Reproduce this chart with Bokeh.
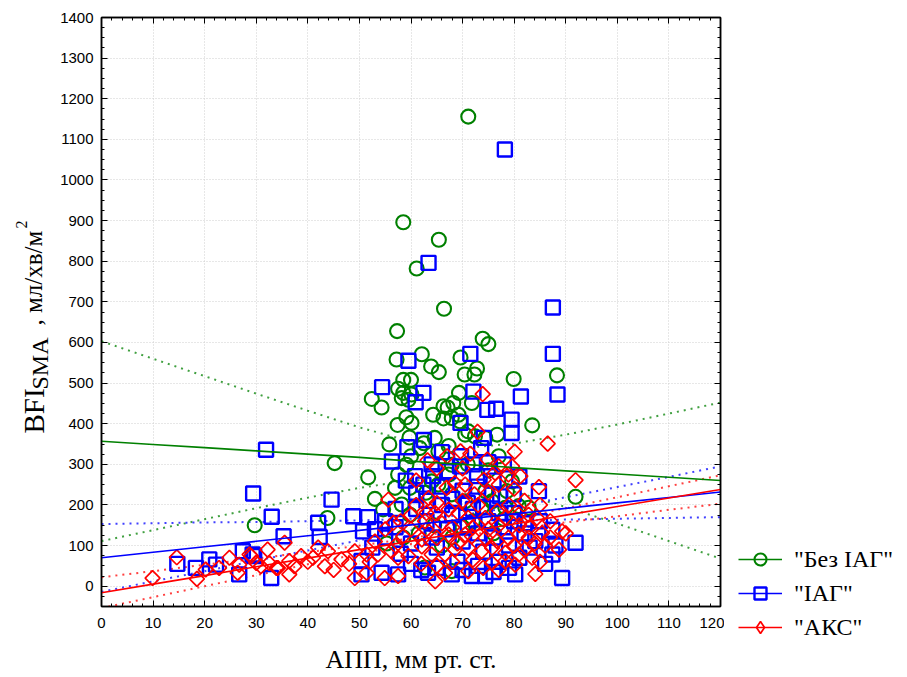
import math
from bokeh.plotting import figure
from bokeh.layouts import row, column
from bokeh.models import (Range1d, FixedTicker, LinearAxis, Legend, LegendItem,
                          Label, CustomJSTickFormatter)
from bokeh.embed import file_html
from bokeh.resources import INLINE

# ---------------- data ----------------
group_names = ['"Без ІАГ"', '"ІАГ"', '"АКС"']

green_x = [71.1, 58.5, 65.4, 61.1, 66.4, 57.3, 73.9, 75.0, 62.1, 57.2, 69.6, 72.8, 63.9, 65.4,
           70.4, 72.3, 58.5, 60.0, 79.9, 88.3, 57.5, 58.5, 69.3, 52.4, 54.3, 58.2, 59.5, 60.1,
           66.3, 67.1, 68.2, 71.8, 66.3, 57.4, 59.1, 60.1, 69.2, 69.5, 83.5, 64.3, 67.9, 70.5,
           71.1, 72.4, 74.4, 76.7, 64.6, 59.7, 55.8, 62.5, 67.3, 61.7, 65.3, 59.1, 57.5, 67.3,
           67.9, 64.0, 56.9, 59.8, 62.9, 65.3, 67.9, 70.5, 73.7, 75.7, 78.3, 79.6, 74.4, 78.6,
           80.9, 82.8, 58.2, 59.8, 54.6, 45.2, 51.7, 43.8, 29.7, 91.9, 62.7, 67.9, 55.3, 61.5,
           64.5, 70.0, 72.0, 68.0, 76.0, 58.5, 66.0, 78.0, 53.0, 75.0, 71.0, 60.0, 77.0]
green_y = [1156, 896, 853, 782, 683, 628, 609, 596, 571, 558, 563, 536, 541, 527,
           521, 521, 508, 508, 510, 519, 486, 476, 476, 461, 440, 463, 459, 472,
           443, 440, 451, 451, 413, 397, 416, 402, 422, 406, 396, 422, 414, 373,
           381, 369, 365, 373, 365, 366, 349, 352, 345, 340, 332, 299, 275, 275,
           299, 258, 242, 242, 230, 250, 226, 209, 193, 209, 193, 258, 234, 234,
           197, 193, 201, 176, 189, 303, 268, 168, 150, 220, 46, 37, 105, 130,
           150, 145, 160, 120, 130, 120, 100, 165, 215, 285, 300, 320, 320]

blue_x = [78.2, 63.4, 59.5, 71.5, 87.5, 87.5, 88.4, 81.3, 54.4, 62.4, 60.9, 72.1, 74.8, 76.5,
          69.6, 79.5, 79.5, 62.5, 59.3, 56.3, 73.6, 74.1, 69.5, 31.9, 29.4, 33.0, 44.6, 42.0,
          42.3, 35.3, 48.8, 51.7, 50.7, 29.3, 32.9, 27.4, 26.7, 14.7, 18.3, 20.9, 22.2, 29.6,
          50.4, 54.3, 57.5, 50.4, 60.8, 62.4, 64.3, 67.3, 69.7, 72.8, 75.7, 79.9, 77.3, 84.8,
          87.4, 91.9, 89.3, 84.1, 87.4, 80.2, 74.4, 67.9, 71.8, 63.3, 52.5, 55.0, 57.0, 58.0,
          60.0, 61.0, 63.0, 64.0, 65.0, 66.0, 67.0, 68.0, 69.0, 70.0, 71.0, 72.0, 73.0, 74.0,
          75.0, 76.0, 77.0, 78.0, 79.0, 80.0, 81.0, 82.0, 83.0, 85.0, 86.0, 88.0, 60.0, 62.0,
          65.0, 70.0, 73.0, 76.0, 79.0, 66.0, 70.0, 73.0, 76.0, 68.0, 71.0, 74.0, 77.0, 80.0,
          82.0, 63.0, 61.0, 57.0, 55.0, 53.0, 81.0, 78.0, 75.0, 72.0, 64.0, 59.0, 66.0]
blue_y = [1075, 796, 555, 572, 686, 572, 472, 467, 490, 476, 453, 479, 434, 437,
          402, 410, 377, 360, 342, 307, 340, 365, 295, 336, 228, 171, 213, 156,
          121, 123, 172, 170, 135, 78, 20, 86, 29, 55, 45, 66, 53, 74,
          62, 33, 29, 29, 271, 250, 271, 283, 320, 271, 226, 226, 221, 234,
          139, 107, 20, 111, 78, 29, 25, 29, 25, 33, 95, 120, 145, 80,
          105, 190, 160, 120, 95, 200, 140, 175, 60, 110, 150, 190, 130, 85,
          160, 120, 60, 145, 100, 180, 70, 130, 95, 160, 55, 100, 55, 40,
          45, 40, 50, 35, 45, 245, 235, 245, 260, 215, 205, 195, 180, 160,
          155, 210, 230, 190, 160, 140, 270, 300, 305, 300, 300, 260, 330]

red_x = [9.9, 14.6, 18.5, 20.2, 22.8, 24.8, 26.7, 28.7, 30.9, 32.2, 33.9, 35.5, 36.4, 26.4,
         29.0, 30.0, 32.5, 34.2, 36.4, 37.4, 38.7, 41.0, 43.3, 43.9, 46.5, 49.1, 49.1, 51.4,
         51.4, 53.6, 54.9, 56.2, 57.5, 57.5, 59.5, 62.1, 64.0, 64.7, 66.6, 66.6, 68.5, 71.1,
         71.1, 73.7, 75.7, 75.7, 78.3, 78.3, 80.9, 80.2, 83.5, 84.1, 88.7, 58.5, 62.1, 65.0,
         67.3, 70.5, 71.8, 74.4, 76.7, 78.9, 80.9, 82.8, 56.6, 62.7, 85.4, 89.3, 64.7, 67.3,
         69.2, 71.1, 74.4, 76.7, 78.3, 80.9, 82.8, 84.4, 72.3, 63.4, 55.6, 74.1, 70.5, 66.9,
         68.5, 84.8, 91.9, 76.3, 78.9, 81.2, 74.8, 77.0, 79.6, 63.2, 69.6, 71.5, 80.1, 86.5,
         72.9, 73.9, 60.0, 61.0, 63.0, 66.0, 68.0, 69.0, 72.0, 73.0, 75.0, 77.0, 79.0, 81.0,
         83.0, 85.0, 86.0, 87.0, 60.0, 65.0, 70.0, 75.0, 77.0, 80.0, 82.0, 84.0, 57.0, 55.0,
         53.0, 52.0, 48.0, 45.0, 42.0, 40.0, 62.0, 65.0, 68.0, 72.0, 74.0, 77.0, 80.0, 82.0,
         85.0, 87.0, 90.0, 61.0, 65.0, 67.0, 70.0, 58.0, 63.0]
red_y = [20, 71, 18, 41, 45, 70, 53, 78, 49, 90, 45, 107, 62, 33,
         74, 57, 57, 45, 29, 49, 74, 70, 49, 86, 66, 86, 20, 78,
         33, 78, 20, 86, 70, 25, 74, 98, 78, 12, 78, 33, 90, 94,
         37, 86, 94, 57, 82, 62, 78, 53, 70, 30, 90, 123, 115, 119,
         127, 127, 123, 119, 111, 119, 127, 119, 156, 160, 131, 135, 180, 189,
         180, 168, 168, 185, 168, 176, 176, 168, 226, 217, 213, 262, 250, 242,
         254, 244, 261, 279, 275, 271, 312, 295, 295, 310, 332, 326, 331, 351,
         380, 473, 140, 200, 140, 155, 145, 105, 145, 200, 140, 150, 200, 150,
         145, 200, 100, 160, 175, 205, 210, 230, 250, 240, 210, 105, 100, 140,
         110, 60, 55, 40, 95, 60, 55, 50, 60, 65, 45, 40, 100, 90,
         60, 120, 130, 260, 290, 320, 290, 160, 180]

# regression lines and 95% confidence bands, read at these APP values
band_x = [0, 10, 20, 30, 40, 50, 60, 70, 80, 90, 100, 110, 120]
green_fit = [357, 349, 341, 333, 325, 317, 308, 300, 292, 284, 276, 268, 260]
green_upper = [603, 560, 517, 474, 432, 391, 356, 340, 351, 373, 398, 425, 452]
green_lower = [111, 138, 165, 192, 218, 242, 261, 261, 233, 195, 154, 111, 68]
blue_fit = [70, 83.5, 97, 110.5, 124, 137.5, 151, 164.5, 178, 191.5, 205, 218.5, 232]
blue_upper = [153, 155, 157, 158, 160, 162, 166, 175, 195, 219, 244, 269, 295]
blue_lower = [-14, 12, 37, 63, 88, 113, 137, 155, 161, 164, 166, 168, 170]
red_fit = [-16, 5, 26, 48, 69, 90, 111, 132, 153, 175, 196, 217, 238]
red_upper = [22, 37, 53, 68, 84, 100, 118, 141, 166, 192, 219, 246, 273]
red_lower = [-54, -27, 0, 27, 54, 80, 104, 124, 141, 157, 172, 188, 203]

x_ticks = list(range(0, 121, 10))
y_ticks = list(range(0, 1401, 100))

x_title = "АПП, мм рт. ст."
y_title_parts = ["BFI", "SMA", ", мл/хв/м", "2"]

# ---------------- styling ----------------
GREEN, BLUE, RED = "#008000", "#0000ff", "#ff0000"
SERIF, SANS = "Liberation Serif", "Liberation Sans"
H = 677
W_TITLE = 55      # column holding the y title
W_MAIN = 669
W_LEG = 907 - W_TITLE - W_MAIN

# ---------------- main plot ----------------
p = figure(width=W_MAIN, height=H, output_backend="svg", toolbar_location=None,
           x_range=Range1d(0, 120), y_range=Range1d(-50, 1400),
           min_border_left=101 - W_TITLE, min_border_right=4, min_border_top=17,
           min_border_bottom=71, background_fill_color="white",
           border_fill_color="white")
p.outline_line_color = "black"
p.outline_line_width = 1.5

xt = FixedTicker(ticks=x_ticks, minor_ticks=list(range(0, 121, 2)))
yt = FixedTicker(ticks=y_ticks, minor_ticks=list(range(-50, 1401, 25)))

for ax, tk in ((p.xaxis[0], xt), (p.yaxis[0], yt)):
    ax.ticker = tk
    ax.major_tick_in = 6
    ax.major_tick_out = 0
    ax.minor_tick_in = 3
    ax.minor_tick_out = 0
    ax.axis_line_color = "black"
    ax.axis_line_width = 1.5
    ax.major_label_text_font = SANS
    ax.major_label_text_font_size = "15px"
    ax.major_label_text_color = "black"
p.yaxis[0].major_label_standoff = 8
p.xaxis[0].major_label_standoff = 11
p.xaxis[0].axis_label = x_title
p.xaxis[0].axis_label_text_font = SERIF
p.xaxis[0].axis_label_text_font_size = "26px"
p.xaxis[0].axis_label_text_font_style = "normal"
p.xaxis[0].axis_label_text_color = "black"
p.xaxis[0].axis_label_standoff = 14

blank = CustomJSTickFormatter(code="return ''")
for side, tk in (("above", xt), ("right", yt)):
    a = LinearAxis(ticker=tk, formatter=blank, major_tick_in=6, major_tick_out=0,
                   minor_tick_in=3, minor_tick_out=0, axis_line_color="black",
                   axis_line_width=1.5, major_label_text_font_size="1px",
                   major_label_standoff=0)
    p.add_layout(a, side)

for g in (p.xgrid[0], p.ygrid[0]):
    g.grid_line_color = "#cfcfcf"
    g.grid_line_dash = "1 2"
    g.grid_line_width = 1
p.xgrid[0].ticker = xt
p.ygrid[0].ticker = yt

dot = "2 5"
series = [
    (green_x, green_y, green_fit, green_upper, green_lower, GREEN, "circle", 14, 2.1, 0),
    (blue_x, blue_y, blue_fit, blue_upper, blue_lower, BLUE, "square", 14, 2.4, 0),
    (red_x, red_y, red_fit, red_upper, red_lower, RED, "square", 10.5, 1.7, math.pi / 4),
]
for (sx, sy, fit, up, lo, col, mk, sz, lw, ang) in series:
    p.line(band_x, up, line_color=col, line_width=2, line_dash=dot, line_alpha=0.75)
    p.line(band_x, lo, line_color=col, line_width=2, line_dash=dot, line_alpha=0.75)
for (sx, sy, fit, up, lo, col, mk, sz, lw, ang) in series:
    p.scatter(sx, sy, marker=mk, size=sz, angle=ang, fill_color=None,
              line_color=col, line_width=lw)
for (sx, sy, fit, up, lo, col, mk, sz, lw, ang) in series:
    p.line(band_x, fit, line_color=col, line_width=1.6)

# ---------------- y-title column ----------------
t = figure(width=W_TITLE, height=H, output_backend="svg", toolbar_location=None,
           x_range=Range1d(0, W_TITLE), y_range=Range1d(0, H),
           x_axis_type=None, y_axis_type=None, min_border=0,
           outline_line_color=None, background_fill_color="white",
           border_fill_color="white")
t.xgrid.visible = False
t.ygrid.visible = False
ylab_specs = [   # text, baseline x, start (px above the frame bottom), font size
    (y_title_parts[0], 33, 173, "29px"),
    (y_title_parts[1], 39, 217, "24px"),
    (y_title_parts[2], 33, 281, "25px"),
    (y_title_parts[3], 21, 378, "16px"),
]
for txt, lx, ly, fs in ylab_specs:
    t.add_layout(Label(x=lx, y=ly, x_units="screen", y_units="screen", text=txt,
                       angle=math.pi / 2, text_font=SERIF, text_font_size=fs,
                       text_color="black", text_align="left",
                       text_baseline="alphabetic"))

# ---------------- legend column (series drawn out of view, only legend shows) ----
lg = figure(width=W_LEG, height=H, output_backend="svg", toolbar_location=None,
            x_range=Range1d(1000, 1001), y_range=Range1d(1000, 1001),
            x_axis_type=None, y_axis_type=None, min_border=0,
            outline_line_color=None, background_fill_color="white",
            border_fill_color="white")
lg.xgrid.visible = False
lg.ygrid.visible = False
legend_markers = ["circle", "square", "diamond"]
items = []
for name, lm, (sx, sy, fit, up, lo, col, mk, sz, lw, ang) in zip(group_names, legend_markers, series):
    lr = lg.line(band_x, fit, line_color=col, line_width=1.6)
    sr = lg.scatter(sx, sy, marker=lm, size=sz, fill_color=None,
                    line_color=col, line_width=lw)
    items.append(LegendItem(label=name, renderers=[lr, sr]))
legend = Legend(items=items, location=(14, 35), orientation="vertical",
                label_text_font=SERIF, label_text_font_size="24px",
                label_text_color="black", glyph_width=44, glyph_height=30,
                label_height=30, spacing=4, label_standoff=12, padding=0,
                margin=0, border_line_color=None, background_fill_alpha=0)
lg.add_layout(legend, "center")

layout = row(t, p, column(lg))
open("out.html", "w").write(file_html(layout, INLINE))
